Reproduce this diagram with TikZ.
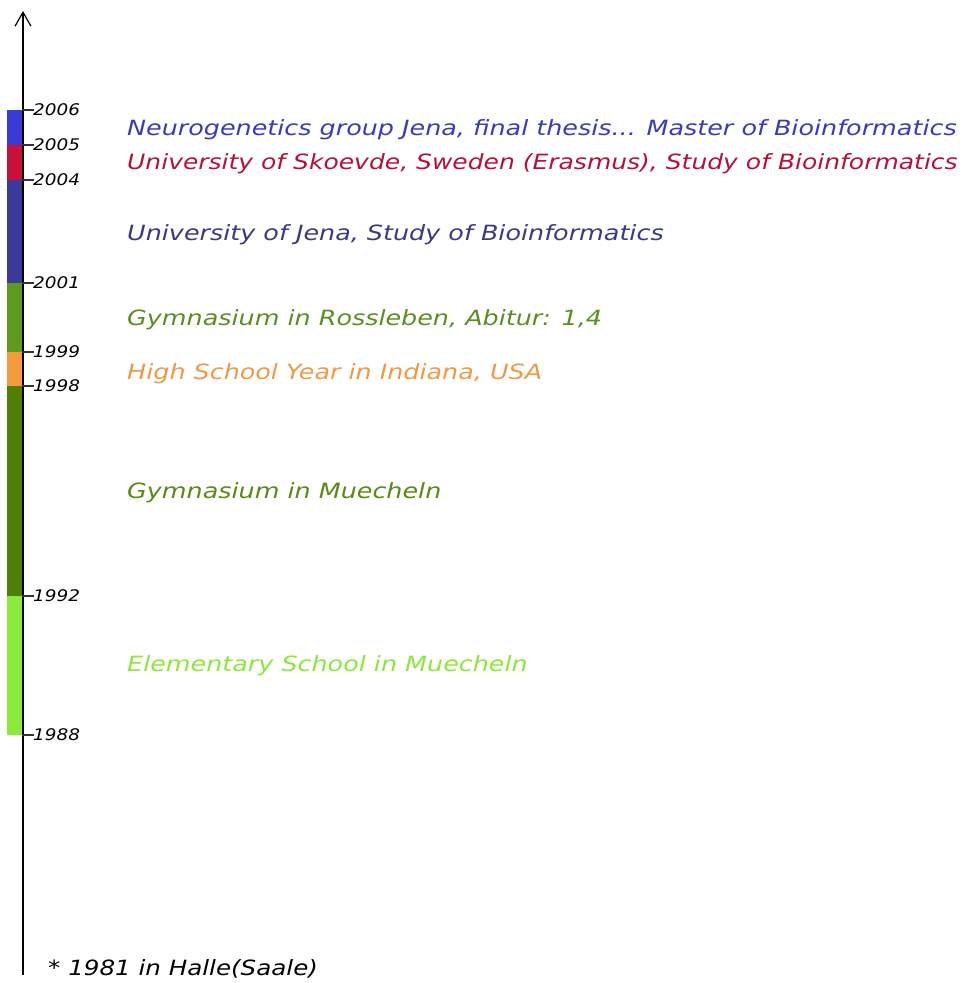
\documentclass[tikz,border=0pt]{standalone}
\usepackage{fontspec}
\setmainfont{DejaVu Sans}
\usetikzlibrary{arrows.meta}
\definecolor{cNeuro}{HTML}{3A3AD8}
\definecolor{cSkov}{HTML}{C8103A}
\definecolor{cJena}{HTML}{3A3A9A}
\definecolor{cRoss}{HTML}{5E9A1E}
\definecolor{cUSA}{HTML}{F59A3C}
\definecolor{cMuech}{HTML}{4F7F06}
\definecolor{cElem}{HTML}{8CEB3A}
\definecolor{tNeuro}{HTML}{3A3AC0}
\definecolor{tSkov}{HTML}{B8103A}
\definecolor{tJena}{HTML}{3A3A8A}
\definecolor{tRoss}{HTML}{5A8F22}
\definecolor{tUSA}{HTML}{EE9A48}
\definecolor{tMuech}{HTML}{5A8A18}
\definecolor{tElem}{HTML}{8CE83E}
\newfontfamily\wideital[FakeStretch=1.21]{DejaVu Sans Oblique}
\newfontfamily\skovital[FakeStretch=1.19]{DejaVu Sans Oblique}
\newfontfamily\yearital[FakeStretch=1.15]{DejaVu Sans Oblique}
\newfontfamily\bornital[FakeStretch=1.17]{DejaVu Sans Oblique}
\tikzset{
  year/.style={anchor=west, inner sep=0pt, font=\yearital\fontsize{16}{16}\selectfont},
  lbl/.style={anchor=base west, inner sep=0pt, font=\wideital\fontsize{21}{21}\selectfont},
  tick/.style={line width=1.2pt, black!80}
}
\begin{document}
\begin{tikzpicture}[x=1pt,y=-1pt]
\useasboundingbox[fill=white] (0,0) rectangle (968,983);
% bar segments
\fill[cNeuro] (7,110) rectangle (22,145);
\fill[cSkov]  (7,145) rectangle (22,180);
\fill[cJena]  (7,180) rectangle (22,283);
\fill[cRoss]  (7,283) rectangle (22,352);
\fill[cUSA]   (7,352) rectangle (22,386);
\fill[cMuech] (7,386) rectangle (22,596);
\fill[cElem]  (7,596) rectangle (22,735);
% axis
\coordinate (bot) at (23,975);
\coordinate (top) at (23,11);
\draw[line width=1.2pt, -{Straight Barb[length=14pt,width=16pt]}] (bot) -- (top);
% ticks and year labels
\foreach \yr/\yy in {2006/110,2005/145,2004/180,2001/283,1999/352,1998/386,1992/596,1988/735}{
  \draw[tick] (22,\yy) -- (34,\yy);
  \node[year] (y\yr) at (33,\yy) {\yr};
}
% labels
\node[lbl, text=tNeuro] (neuro) at (127,135) {Neurogenetics group Jena, final thesis... Master of Bioinformatics};
\node[lbl, text=tSkov, font=\skovital\fontsize{21}{21}\selectfont] (skov) at (127,169) {University of Skoevde, Sweden (Erasmus), Study of Bioinformatics};
\node[lbl, text=tJena]  (jena)  at (127,240) {University of Jena, Study of Bioinformatics};
\node[lbl, text=tRoss]  (ross)  at (127,325) {Gymnasium in Rossleben, Abitur: 1,4};
\node[lbl, text=tUSA]   (usa)   at (127,379) {High School Year in Indiana, USA};
\node[lbl, text=tMuech] (muech) at (127,498) {Gymnasium in Muecheln};
\node[lbl, text=tElem]  (elem)  at (127,671) {Elementary School in Muecheln};
\node[lbl, text=black, font=\bornital\fontsize{21}{21}\selectfont] (born) at (48,975) {* 1981 in Halle(Saale)};
\end{tikzpicture}
\end{document}
